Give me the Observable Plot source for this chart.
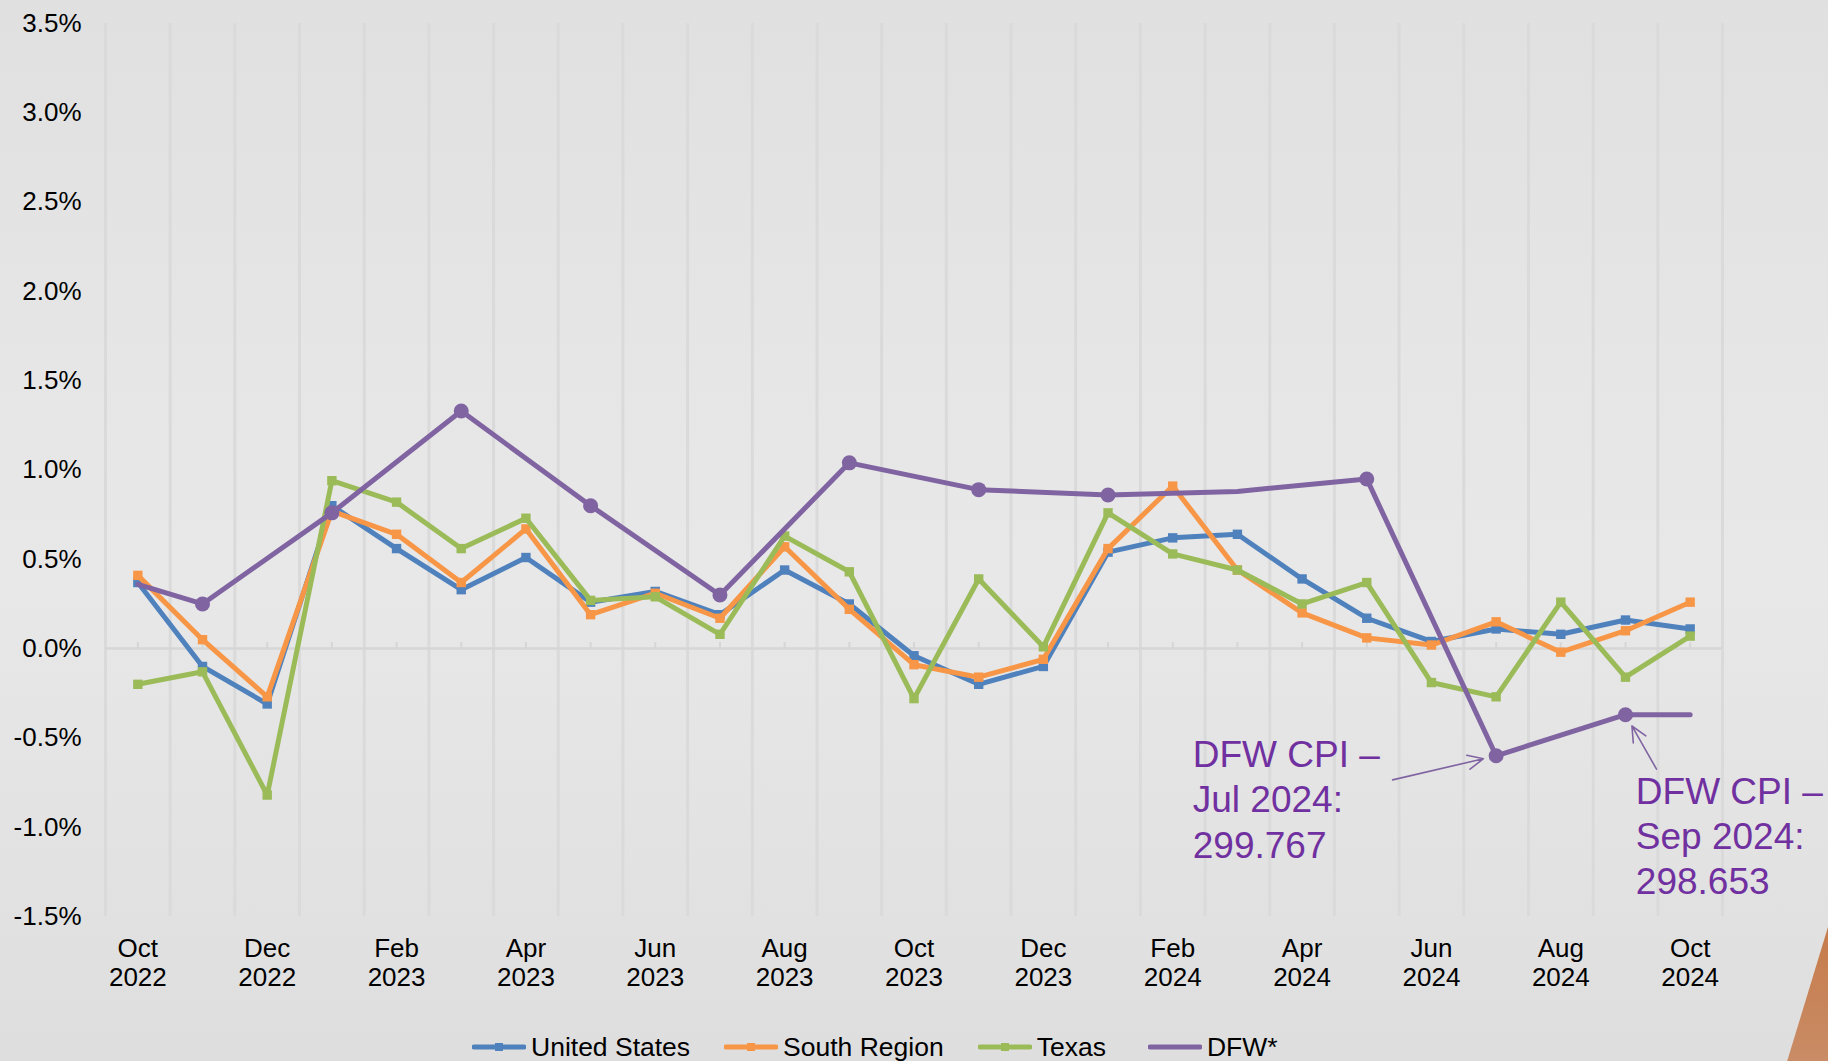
<!DOCTYPE html>
<html>
<head>
<meta charset="utf-8">
<script src="https://cdn.jsdelivr.net/npm/d3@7"></script>
<script src="https://cdn.jsdelivr.net/npm/@observablehq/plot@0.6"></script>
<style>
  html, body { margin: 0; padding: 0; }
  body {
    width: 1828px; height: 1061px; overflow: hidden; position: relative;
    background: linear-gradient(to bottom, #e0e0e0 0%, #e6e6e6 35%, #e8e8e8 55%, #dedede 100%);
    font-family: "Liberation Sans", Arial, sans-serif;
  }
  #chart { position: absolute; left: 0; top: 0; }
  #legend {
    position: absolute; left: 472px; top: 1031px; height: 32px;
    display: flex; align-items: center; gap: 34px;
    font-size: 26.5px; color: #000; white-space: nowrap;
  }
  .item { display: flex; align-items: center; gap: 5px; }
  .item:last-child { margin-left: 8px; }
  #corner {
    position: absolute; left: 1780px; top: 920px; width: 48px; height: 141px;
    background: linear-gradient(to bottom, #c67a48, #c98c66);
    clip-path: polygon(100% 5%, 100% 100%, 15% 100%);
  }
</style>
</head>
<body>
<div id="chart"></div>
<div id="legend"></div>
<div id="corner"></div>
<script>
// ---- Data (monthly % change) ----
const months = ["Oct 2022","Nov 2022","Dec 2022","Jan 2023","Feb 2023","Mar 2023","Apr 2023","May 2023",
  "Jun 2023","Jul 2023","Aug 2023","Sep 2023","Oct 2023","Nov 2023","Dec 2023","Jan 2024","Feb 2024",
  "Mar 2024","Apr 2024","May 2024","Jun 2024","Jul 2024","Aug 2024","Sep 2024","Oct 2024"];
const unitedStates = [0.37,-0.10,-0.31,0.80,0.56,0.33,0.51,0.26,0.32,0.19,0.44,0.25,-0.04,-0.20,-0.10,0.54,0.62,0.64,0.39,0.17,0.04,0.11,0.08,0.16,0.11];
const southRegion  = [0.41,0.05,-0.27,0.77,0.64,0.37,0.67,0.19,0.31,0.17,0.57,0.22,-0.09,-0.16,-0.06,0.56,0.91,0.44,0.20,0.06,0.02,0.15,-0.02,0.10,0.26];
const texas        = [-0.20,-0.13,-0.82,0.94,0.82,0.56,0.73,0.27,0.29,0.08,0.63,0.43,-0.28,0.39,0.01,0.76,0.53,0.44,0.25,0.37,-0.19,-0.27,0.26,-0.16,0.07];
const dfw          = [0.36,0.25,null,0.76,null,1.33,null,0.80,null,0.30,null,1.04,null,0.89,null,0.86,null,0.88,null,0.95,null,-0.60,null,-0.37,-0.37];
const dfwMarkedMonths = ["Nov 2022","Jan 2023","Mar 2023","May 2023","Jul 2023","Sep 2023","Nov 2023","Jan 2024","May 2024","Jul 2024","Sep 2024"];
const tickLabels = ["Oct\n2022","Dec\n2022","Feb\n2023","Apr\n2023","Jun\n2023","Aug\n2023","Oct\n2023","Dec\n2023","Feb\n2024","Apr\n2024","Jun\n2024","Aug\n2024","Oct\n2024"];
const yTicks = [-1.5,-1.0,-0.5,0.0,0.5,1.0,1.5,2.0,2.5,3.0,3.5];
const seriesNames  = ["United States","South Region","Texas","DFW*"];
const seriesColors = ["#4f81bd","#f79646","#9bbb59","#8064a2"];
const annotations = [
  {text: "DFW CPI –\nJul 2024:\n299.767", month: "Jul 2024", labelX: 16.31, labelY: -0.485, tailX: 19.4, tailY: -0.735},
  {text: "DFW CPI –\nSep 2024:\n298.653", month: "Sep 2024", labelX: 23.16, labelY: -0.69, tailX: 23.48, tailY: -0.675}
];

// ---- Build tables ----
const toRows = (vals) => vals.map((v, i) => ({i, month: months[i], v})).filter(d => d.v != null);
const usRows = toRows(unitedStates);
const srRows = toRows(southRegion);
const txRows = toRows(texas);
const dfwRows = toRows(dfw);
const dfwMarks = dfwRows.filter(d => dfwMarkedMonths.includes(d.month));
const idx = (m) => months.indexOf(m);
const annRows = annotations.map(a => ({...a, i: idx(a.month), v: dfw[idx(a.month)]}));

const W = 1828, H = 1010;
const squareR = 5.3;
const lw = 5;

const lineAndSquares = (rows, color) => [
  Plot.line(rows, {x: "i", y: "v", stroke: color, strokeWidth: lw, strokeLinejoin: "round", curve: "linear"}),
  Plot.dot(rows, {x: "i", y: "v", symbol: "square", r: squareR, fill: color, stroke: "none"})
];

const plot = Plot.plot({
  width: W, height: H,
  marginLeft: 105, marginRight: 106, marginTop: 23, marginBottom: H - 916,
  style: {background: "transparent", fontFamily: "'Liberation Sans', Arial, sans-serif", fontSize: "26px", color: "#000", overflow: "visible"},
  x: {type: "linear", domain: [-0.5, months.length - 0.5]},
  y: {type: "linear", domain: [-1.5, 3.5]},
  marks: [
    // vertical gridlines between categories
    Plot.ruleX(d3.range(-0.5, months.length, 1), {stroke: "#dadada", strokeWidth: 3}),
    // zero line with small category ticks
    Plot.ruleY([0], {stroke: "#d6d6d6", strokeWidth: 2.5}),
    Plot.ruleX(d3.range(0, months.length), {x: d => d, y1: 0, y2: 0, insetTop: -6, stroke: "#d6d6d6", strokeWidth: 2}),
    Plot.axisY({ticks: yTicks, tickFormat: d => d.toFixed(1) + "%", tickSize: 0, tickPadding: 24, fontSize: 26, label: null}),
    Plot.axisX({ticks: d3.range(0, months.length, 2), tickFormat: d => tickLabels[d / 2], tickSize: 0, tickPadding: 20, fontSize: 26, lineHeight: 1.12, label: null}),
    ...lineAndSquares(usRows, seriesColors[0]),
    ...lineAndSquares(srRows, seriesColors[1]),
    ...lineAndSquares(txRows, seriesColors[2]),
    Plot.line(dfwRows, {x: "i", y: "v", stroke: seriesColors[3], strokeWidth: lw, strokeLinejoin: "round"}),
    Plot.dot(dfwMarks, {x: "i", y: "v", r: 7.5, fill: seriesColors[3], stroke: "none"}),
    // annotations
    Plot.arrow(annRows, {x1: "tailX", y1: "tailY", x2: "i", y2: "v", insetEnd: 13, stroke: "#8064a2", strokeWidth: 1.6, headLength: 16, headAngle: 50}),
    Plot.text(annRows, {x: "labelX", y: "labelY", text: "text", textAnchor: "start", lineAnchor: "top", fontSize: 37, lineHeight: 1.22, fill: "#7030a0"})
  ]
});
document.getElementById("chart").appendChild(plot);

// ---- Legend ----
const legend = d3.select("#legend");
seriesNames.forEach((name, k) => {
  const item = legend.append("div").attr("class", "item");
  const svg = item.append("svg").attr("width", 54).attr("height", 12);
  svg.append("line").attr("x1", 2).attr("x2", 52).attr("y1", 6).attr("y2", 6)
    .attr("stroke", seriesColors[k]).attr("stroke-width", 5).attr("stroke-linecap", "round");
  if (k < 3) svg.append("rect").attr("x", 23).attr("y", 2).attr("width", 8).attr("height", 8).attr("fill", seriesColors[k]);
  item.append("span").text(name);
});
</script>
</body>
</html>
